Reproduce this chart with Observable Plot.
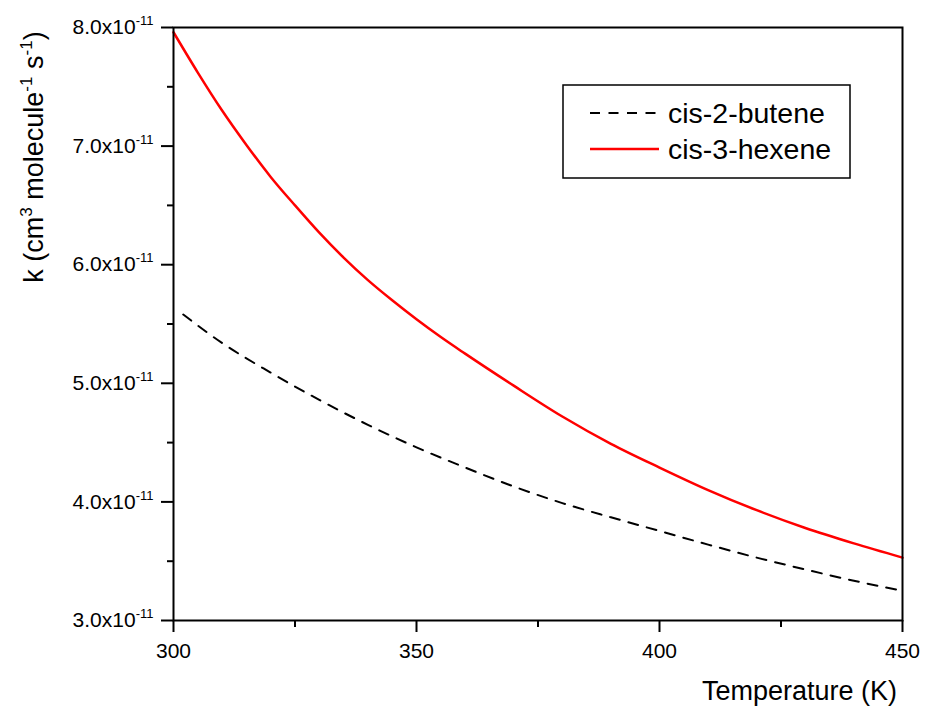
<!DOCTYPE html>
<html><head><meta charset="utf-8">
<script src="https://cdn.jsdelivr.net/npm/d3@7"></script>
<script src="https://cdn.jsdelivr.net/npm/@observablehq/plot@0.6"></script>
<style>
body{margin:0;background:#fff}
#chart{position:relative;width:925px;height:715px}
</style>
</head><body><div id="chart"></div>
<script>
// Data (k in units of 1e-11 cm3 molecule-1 s-1)
const temperatureHexene = [300,305,310,315,320,325,330,335,340,345,350,355,360,370,380,390,400,410,420,430,440,450];
const kHexene = [7.96,7.62,7.30,7.01,6.74,6.50,6.27,6.06,5.87,5.70,5.54,5.39,5.25,4.98,4.72,4.49,4.29,4.10,3.93,3.78,3.65,3.53];
const temperatureButene = [302,310,320,330,340,350,360,370,380,390,400,410,420,430,440,450];
const kButene = [5.58,5.34,5.09,4.86,4.65,4.46,4.29,4.13,3.99,3.87,3.755,3.64,3.53,3.43,3.335,3.25];
const seriesNames = ["cis-2-butene","cis-3-hexene"];
const xMajorTicks = [300,350,400,450];
const xMinorTicks = [325,375,425];
const yMajorTicks = [3,4,5,6,7,8];
const yMinorTicks = [3.5,4.5,5.5,6.5,7.5];
const yExponent = "-11";
const xLabel = "Temperature (K)";
const yLabelParts = [["k (cm",false],["3",true],[" molecule",false],["-1",true],[" s",false],["-1",true],[")",false]];

const butene = temperatureButene.map((t,i)=>({t,k:kButene[i]}));
const hexene = temperatureHexene.map((t,i)=>({t,k:kHexene[i]}));
const font = "'Liberation Sans', Arial, Helvetica, sans-serif";

const plot = Plot.plot({
  width:925, height:715,
  marginLeft:173, marginRight:23, marginTop:27, marginBottom:95,
  style:{fontFamily:font, background:"#fff", color:"#000"},
  x:{domain:[300,450]},
  y:{domain:[3,8]},
  marks:[
    Plot.line(butene,{x:"t",y:"k",stroke:"#000",strokeWidth:2,strokeDasharray:"10,9",curve:"monotone-x"}),
    Plot.line(hexene,{x:"t",y:"k",stroke:"#ff0000",strokeWidth:2.5,curve:"monotone-x"}),
    Plot.axisX({ticks:xMajorTicks,tickSize:12,tickPadding:11,tickFormat:d=>String(d),strokeWidth:2,label:null}),
    Plot.axisX({ticks:xMinorTicks,tickSize:7,tickFormat:()=>"",strokeWidth:2,label:null}),
    Plot.axisY({ticks:yMajorTicks,tickSize:12,tickPadding:8,tickFormat:d=>d.toFixed(1)+"x10",strokeWidth:2,label:null}),
    Plot.axisY({ticks:yMinorTicks,tickSize:6,tickFormat:()=>"",strokeWidth:2,label:null}),
    Plot.frame({stroke:"#000",strokeWidth:2})
  ]
});
document.getElementById("chart").appendChild(plot);

const svg = d3.select(plot);
svg.selectAll('g[aria-label="x-axis tick label"], g[aria-label="y-axis tick label"]')
  .attr("font-size",21).attr("font-family",font).attr("fill","#000");
// superscript exponent on y tick labels
svg.selectAll('g[aria-label="y-axis tick label"] text').each(function(){
  const t = d3.select(this);
  if (!t.text()) return;
  t.append("tspan").attr("dy","-9").attr("font-size",13).text(yExponent);
});

// y axis title
const yl = svg.append("text")
  .attr("transform","translate(43,157) rotate(-90)")
  .attr("text-anchor","middle")
  .attr("font-family",font).attr("font-size",27).attr("fill","#000");
let raised = false;
yLabelParts.forEach(([s,sup])=>{
  const ts = yl.append("tspan").text(s);
  if (sup) { ts.attr("dy",-11).attr("font-size",17); raised = true; }
  else if (raised) { ts.attr("dy",11); raised = false; }
});

// x axis title
svg.append("text").attr("x",897).attr("y",700).attr("text-anchor","end")
  .attr("font-family",font).attr("font-size",27).attr("fill","#000").text(xLabel);

// legend
const lg = svg.append("g").attr("text-anchor","start");
lg.append("rect").attr("x",563).attr("y",85).attr("width",287).attr("height",93)
  .attr("fill","#fff").attr("stroke","#000").attr("stroke-width",1.5);
const styles = [{stroke:"#000",w:2,dash:"10,8.5"},{stroke:"#ff0000",w:2.5,dash:null}];
seriesNames.forEach((name,i)=>{
  const y = 113 + i*36;
  const l = lg.append("line").attr("x1",590).attr("x2",659).attr("y1",y).attr("y2",y)
    .attr("stroke",styles[i].stroke).attr("stroke-width",styles[i].w);
  if (styles[i].dash) l.attr("stroke-dasharray",styles[i].dash);
  lg.append("text").attr("x",668).attr("y",y+10).attr("text-anchor","start").attr("font-family",font)
    .attr("font-size",28.5).attr("fill","#000").text(name);
});
</script>
</body></html>
